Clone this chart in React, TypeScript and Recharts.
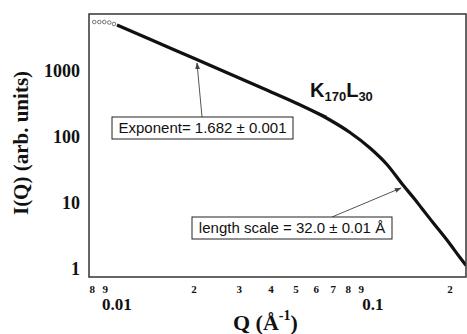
import React from "react";
import { ComposedChart, Line, Scatter, XAxis, YAxis } from "recharts";

// Open-circle data points (low Q)
const circleQ = [0.00815, 0.00853, 0.00892, 0.00933, 0.00973];
const circleI = [5525, 5525, 5525, 5430, 5155];

// Measured scattering curve
const curveQ = [0.01, 0.01345, 0.02017, 0.02763, 0.03785, 0.05047, 0.06792, 0.08133, 0.09734, 0.1134, 0.131, 0.1459, 0.1553, 0.1715, 0.1999, 0.2187, 0.2309];
const curveI = [4977, 3020, 1531, 901, 528, 322, 181, 117, 68.1, 38.3, 18.7, 11.3, 8.26, 5.06, 2.39, 1.49, 1.13];

// Power-law fit segment
const fitQ = [0.012, 0.066];
const fitI = [3660, 205];

const xTicks = [0.008, 0.009, 0.01, 0.02, 0.03, 0.04, 0.05, 0.06, 0.07, 0.08, 0.09, 0.1, 0.2];
const xMinorLabels = ["8", "9", "", "2", "3", "4", "5", "6", "7", "8", "9", "", "2"];
const xMajorLabels = ["", "", "0.01", "", "", "", "", "", "", "", "", "0.1", ""];
const yTicks = [1, 10, 100, 1000];
const yTickLabels = ["1", "10", "100", "1000"];

const circles = circleQ.map((q, k) => ({ q, i: circleI[k] }));
const curve = curveQ.map((q, k) => ({ q, i: curveI[k] }));
const fit = fitQ.map((q, k) => ({ q, i: fitI[k] }));

const serif = "'Liberation Serif', 'Times New Roman', serif";
const sans = "'Liberation Sans', Arial, sans-serif";

const XTick = (props: any) => {
  const { x, y, index } = props;
  const minor = xMinorLabels[index];
  const major = xMajorLabels[index];
  return (
    <g>
      {minor ? (
        <text x={x} y={y + 16} textAnchor="middle" fontFamily={serif} fontWeight="bold" fontSize={11} fill="#111">
          {minor}
        </text>
      ) : null}
      {major ? (
        <text x={x} y={y + 33} textAnchor="middle" fontFamily={serif} fontWeight="bold" fontSize={17} fill="#111">
          {major}
        </text>
      ) : null}
    </g>
  );
};

const YTick = (props: any) => {
  const { x, y, index } = props;
  return (
    <text x={x} y={y} dy="0.35em" textAnchor="end" fontFamily={serif} fontWeight="bold" fontSize={18} fill="#111">
      {yTickLabels[index]}
    </text>
  );
};

const CircleShape = (props: any) => {
  const { cx, cy } = props;
  return <circle cx={cx} cy={cy} r={1.8} fill="#fff" stroke="#666" strokeWidth={0.9} />;
};

export default function App() {
  return (
    <div style={{ position: "absolute", left: 0, top: 0, width: 467, height: 334, background: "#fff" }}>
      <ComposedChart width={467} height={334} margin={{ top: 14, right: 1, bottom: 0, left: 0 }}>
        <XAxis
          type="number"
          dataKey="q"
          scale="log"
          domain={[0.007774, 0.2309]}
          allowDataOverflow
          ticks={xTicks}
          interval={0}
          tick={<XTick />}
          tickLine={false}
          axisLine={false}
          tickSize={0}
          tickMargin={0}
          height={57}
        />
        <YAxis
          type="number"
          dataKey="i"
          scale="log"
          domain={[0.756, 7308]}
          allowDataOverflow
          ticks={yTicks}
          interval={0}
          tick={<YTick />}
          tickLine={false}
          axisLine={false}
          tickSize={0}
          tickMargin={9}
          width={89}
        />
        <Line data={fit} dataKey="i" type="linear" stroke="#444" strokeWidth={1.2} dot={false} isAnimationActive={false} />
        <Line data={curve} dataKey="i" type="monotone" stroke="#111" strokeWidth={3.2} dot={false} isAnimationActive={false} />
        <Scatter data={circles} dataKey="i" shape={<CircleShape />} isAnimationActive={false} />
      </ComposedChart>
      <svg width={467} height={334} style={{ position: "absolute", left: 0, top: 0, pointerEvents: "none" }}>
        <defs>
          <marker id="ah" viewBox="0 0 10 10" refX="9" refY="5" markerWidth="7" markerHeight="7" orient="auto-start-reverse">
            <path d="M0,1.5 L10,5 L0,8.5 z" fill="#444" />
          </marker>
        </defs>
        <rect x={89} y={14} width={377} height={263} fill="none" stroke="#333" strokeWidth={1.5} />
        <line x1={202} y1={117} x2={197} y2={63} stroke="#555" strokeWidth={1} markerEnd="url(#ah)" />
        <rect x={112} y={117} width={181} height={22} fill="#fff" stroke="#222" strokeWidth={1} />
        <text x={202.5} y={133} textAnchor="middle" fontFamily={sans} fontSize={15} fill="#111">
          Exponent= 1.682 ± 0.001
        </text>
        <line x1={332} y1={217} x2={401} y2={188} stroke="#555" strokeWidth={1} markerEnd="url(#ah)" />
        <rect x={192} y={217} width={200} height={22} fill="#fff" stroke="#222" strokeWidth={1} />
        <text x={292} y={233} textAnchor="middle" fontFamily={sans} fontSize={15} fill="#111">
          length scale = 32.0 ± 0.01 Å
        </text>
        <text x={310} y={97} fontFamily={sans} fontWeight="bold" fontSize={20} fill="#111">
          K
          <tspan fontSize={13} dy={4}>170</tspan>
          <tspan fontSize={20} dy={-4}>L</tspan>
          <tspan fontSize={13} dy={4}>30</tspan>
        </text>
        <text
          x={21}
          y={143}
          transform="rotate(-90, 21, 143)"
          textAnchor="middle"
          dominantBaseline="central"
          fontFamily={serif}
          fontWeight="bold"
          fontSize={21}
          fill="#111"
        >
          I(Q) (arb. units)
        </text>
        <text x={233} y={330} fontFamily={serif} fontWeight="bold" fontSize={22} fill="#111">
          Q (Å
          <tspan fontSize={14} dy={-10}>-1</tspan>
          <tspan fontSize={22} dy={10}>)</tspan>
        </text>
      </svg>
    </div>
  );
}
